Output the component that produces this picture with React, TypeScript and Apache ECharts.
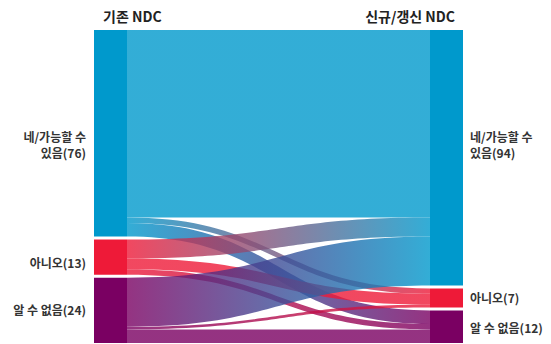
import React, { useEffect, useRef } from "react";
import * as echarts from "echarts";

const categoryKeys = ["yes", "no", "unknown"];
const leftLabels = ["네/가능할 수\n있음(76)", "아니오(13)", "알 수 없음(24)"];
const rightLabels = ["네/가능할 수\n있음(94)", "아니오(7)", "알 수 없음(12)"];
// flowValues[source][target]
const flowValues = [
  [69, 2, 5],
  [7, 4, 2],
  [18, 1, 5],
];
const nodeColors = ["#0099CC", "#EE1A38", "#7A0062"];
const columnTitles = ["기존 NDC", "신규/갱신 NDC"];

export default function App() {
  const ref = useRef<HTMLDivElement>(null);
  useEffect(() => {
    if (!ref.current) return;
    const chart = echarts.init(ref.current, undefined, { renderer: "svg" });
    const font = '"Noto Sans CJK KR", "Noto Sans", sans-serif';
    const leftOffsets = [[0, 11], [0, 5], [0, -1]];
    const rightOffsets = [[0, -13], [0, 0], [0, 1]];
    const nodes: any[] = [];
    categoryKeys.forEach((k, i) => {
      nodes.push({
        name: "L_" + k,
        depth: 0,
        itemStyle: { color: nodeColors[i] },
        label: {
          position: "left",
          distance: 8,
          align: "right",
          offset: leftOffsets[i],
          formatter: () => leftLabels[i],
        },
      });
    });
    categoryKeys.forEach((k, i) => {
      nodes.push({
        name: "R_" + k,
        depth: 1,
        itemStyle: { color: nodeColors[i] },
        label: {
          position: "right",
          distance: 7,
          align: "left",
          offset: rightOffsets[i],
          formatter: () => rightLabels[i],
        },
      });
    });
    const links: any[] = [];
    flowValues.forEach((row, s) => {
      row.forEach((v, t) => {
        links.push({ source: "L_" + categoryKeys[s], target: "R_" + categoryKeys[t], value: v });
      });
    });
    chart.setOption({
      animation: false,
      graphic: [
        {
          type: "text",
          left: 103,
          top: 9,
          style: {
            text: columnTitles[0],
            fontSize: 14,
            fontWeight: "bold",
            fontFamily: font,
            fill: "#222",
          },
        },
        {
          type: "text",
          right: 96,
          top: 9,
          style: {
            text: columnTitles[1],
            fontSize: 14,
            fontWeight: "bold",
            fontFamily: font,
            fill: "#222",
          },
        },
      ],
      series: [
        {
          type: "sankey",
          left: 94,
          right: 88,
          top: 30,
          bottom: 1,
          nodeWidth: 33,
          nodeGap: 3,
          layoutIterations: 0,
          draggable: false,
          emphasis: { disabled: true },
          itemStyle: { borderWidth: 0 },
          lineStyle: { color: "gradient", opacity: 0.8, curveness: 0.5 },
          label: {
            fontSize: 12,
            fontWeight: "bold",
            fontFamily: font,
            color: "#333",
            lineHeight: 16,
          },
          data: nodes,
          links,
        },
      ],
    });
    return () => chart.dispose();
  }, []);
  return (
    <div
      ref={ref}
      style={{ position: "absolute", left: 0, top: 0, width: 551, height: 344, background: "#fff" }}
    />
  );
}
